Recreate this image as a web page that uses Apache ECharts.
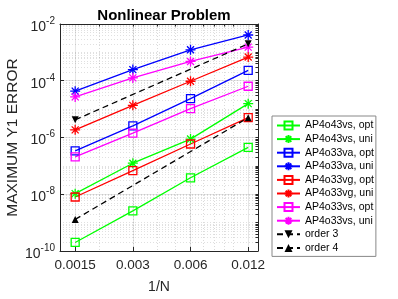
<!DOCTYPE html>
<html>
<head>
<meta charset="utf-8">
<script src="https://cdn.jsdelivr.net/npm/echarts@6/dist/echarts.min.js"></script>
<style>html,body{margin:0;padding:0;background:#fff}#c{width:398px;height:299px}</style>
</head>
<body>
<div id="c"></div>
<script>
// ---- data ----
var xValues = [0.0015, 0.003, 0.006, 0.012];
var xTickLabels = [0.0015, 0.003, 0.006, 0.012];
var yTickLabels = [1e-10, 1e-8, 1e-6, 1e-4, 1e-2];
var ap4o43vsOpt = [2.0e-10, 2.6e-9, 3.8e-8, 4.5e-7];
var ap4o43vsUni = [1.05e-8, 1.24e-7, 8.8e-7, 1.56e-5];
var ap4o33vaOpt = [3.4e-7, 2.56e-6, 2.33e-5, 2.33e-4];
var ap4o33vaUni = [4.3e-5, 2.47e-4, 1.23e-3, 4.1e-3];
var ap4o33vgOpt = [8.0e-9, 6.85e-8, 5.9e-7, 5.0e-6];
var ap4o33vgUni = [1.86e-6, 1.36e-5, 9.6e-5, 6.85e-4];
var ap4o33vsOpt = [2.07e-7, 1.43e-6, 1.04e-5, 6.4e-5];
var ap4o33vsUni = [2.7e-5, 1.26e-4, 4.8e-4, 1.53e-3];
var orderX = [0.0015, 0.012];
var order3 = [4.2e-6, 2.0e-3];
var order4 = [1.3e-9, 5.0e-6];

// ---- helpers ----
function zip(xs, ys) { return xs.map(function (x, i) { return [x, ys[i]]; }); }
var xMinor = [];
for (var k = 2; k <= 9; k++) xMinor.push(k * 1e-3);
xMinor.push(1e-2);
var yMinor = [];
for (var n = -10; n <= -3; n++) for (var m = 1; m <= 9; m++) yMinor.push(m * Math.pow(10, n));
yMinor.push(1e-2);

var FONT = 'Liberation Sans, Arial, Helvetica, sans-serif';
var AX = '#262626';
var STAR = 'path://M5,0L5,10M0,5L10,5M1.5,1.5L8.5,8.5M1.5,8.5L8.5,1.5';

function mk(name, ys, color, sym) {
  var star = sym === 'star';
  return {
    name: name, type: 'line', data: zip(xValues, ys),
    xAxisIndex: 0, yAxisIndex: 0,
    symbol: star ? STAR : 'rect',
    symbolSize: star ? 10 : 8,
    showAllSymbol: true,
    lineStyle: { color: color, width: 1.3 },
    itemStyle: { color: star ? color : 'rgba(255,255,255,0)', borderColor: color, borderWidth: 1.3 },
    emphasis: { disabled: true },
    animation: false, z: 3
  };
}

var series = [
  mk('AP4o43vs, opt', ap4o43vsOpt, '#00ff00', 'rect'),
  mk('AP4o43vs, uni', ap4o43vsUni, '#00ff00', 'star'),
  mk('AP4o33va, opt', ap4o33vaOpt, '#0000ff', 'rect'),
  mk('AP4o33va, uni', ap4o33vaUni, '#0000ff', 'star'),
  mk('AP4o33vg, opt', ap4o33vgOpt, '#ff0000', 'rect'),
  mk('AP4o33vg, uni', ap4o33vgUni, '#ff0000', 'star'),
  mk('AP4o33vs, opt', ap4o33vsOpt, '#ff00ff', 'rect'),
  mk('AP4o33vs, uni', ap4o33vsUni, '#ff00ff', 'star'),
  {
    name: 'order 3', type: 'line', data: zip(orderX, order3),
    symbol: 'triangle', symbolRotate: 180, symbolSize: 7,
    lineStyle: { color: '#000', width: 1.3, type: [6, 4] },
    itemStyle: { color: '#000' }, emphasis: { disabled: true }, animation: false, z: 3
  },
  {
    name: 'order 4', type: 'line', data: zip(orderX, order4),
    symbol: 'triangle', symbolSize: 7,
    lineStyle: { color: '#000', width: 1.3, type: [6, 4] },
    itemStyle: { color: '#000' }, emphasis: { disabled: true }, animation: false, z: 3
  }
];

var chart = echarts.init(document.getElementById('c'), null, { renderer: 'canvas' });
chart.setOption({
  animation: false,
  backgroundColor: '#fff',
  title: {
    text: 'Nonlinear Problem', left: 159, top: 3, textAlign: 'center',
    textStyle: { fontFamily: FONT, fontSize: 15, fontWeight: 'bold', color: '#000' }
  },
  grid: { left: 60, top: 24, right: 140, bottom: 45.5, containLabel: false },
  legend: {
    orient: 'vertical', left: 272, top: 116,
    padding: [4, 2, 3, 4], itemGap: 2.6, itemWidth: 23, itemHeight: 10,
    borderColor: '#888', borderWidth: 1, backgroundColor: '#fff',
    textStyle: { fontFamily: FONT, fontSize: 10.5, color: '#000' },
    data: series.map(function (s) { return s.name; })
  },
  xAxis: [
    {
      type: 'log', logBase: 10, min: 0.00125, max: 0.0135, position: 'bottom',
      name: '1/N', nameLocation: 'middle', nameGap: 29,
      nameTextStyle: { fontFamily: FONT, fontSize: 14, color: AX },
      axisLine: { show: true, lineStyle: { color: AX, width: 1 } },
      axisTick: { show: true, inside: true, length: 4, customValues: xTickLabels, lineStyle: { color: AX } },
      axisLabel: { customValues: xTickLabels, margin: 7, fontFamily: FONT, fontSize: 13.5, color: AX,
        formatter: function (v) { return String(+v.toPrecision(3)); } },
      splitLine: { show: true, lineStyle: { color: 'rgba(38,38,38,0.12)', width: 1 } },
      minorTick: { show: false }, minorSplitLine: { show: false }
    },
    {
      type: 'log', logBase: 10, min: 0.00125, max: 0.0135, position: 'top',
      axisLine: { show: true, lineStyle: { color: AX, width: 1 } },
      axisTick: { show: true, inside: true, length: 2.5, customValues: xMinor, lineStyle: { color: AX } },
      axisLabel: { show: false },
      splitLine: { show: true, lineStyle: { color: 'rgba(38,38,38,0.22)', width: 0.8, type: [1, 2] } }
    }
  ],
  yAxis: [
    {
      type: 'log', logBase: 10, min: 1e-10, max: 1e-2, position: 'left',
      name: 'MAXIMUM Y1 ERROR', nameLocation: 'middle', nameGap: 36,
      nameTextStyle: { fontFamily: FONT, fontSize: 15.5, color: AX },
      axisLine: { show: true, lineStyle: { color: AX, width: 1 } },
      axisTick: { show: true, inside: true, length: 4, customValues: yTickLabels, lineStyle: { color: AX } },
      axisLabel: {
        customValues: yTickLabels, margin: 5, color: AX,
        formatter: function (v) {
          var e = Math.round(Math.log10(v));
          return '{b|10}{s|' + e + '}';
        },
        rich: {
          b: { fontFamily: FONT, fontSize: 14, color: AX, padding: [6, 0, 0, 0] },
          s: { fontFamily: FONT, fontSize: 10, color: AX, padding: [0, 0, 6, 0] }
        }
      },
      splitLine: { show: true, lineStyle: { color: 'rgba(38,38,38,0.12)', width: 1 } }
    },
    {
      type: 'log', logBase: 10, min: 1e-10, max: 1e-2, position: 'right',
      axisLine: { show: true, lineStyle: { color: AX, width: 1 } },
      axisTick: { show: true, inside: true, length: 2.5, customValues: yMinor, lineStyle: { color: AX } },
      axisLabel: { show: false },
      splitLine: { show: true, lineStyle: { color: 'rgba(38,38,38,0.18)', width: 0.8, type: [1, 2] } }
    }
  ],
  series: series
});
</script>
</body>
</html>
